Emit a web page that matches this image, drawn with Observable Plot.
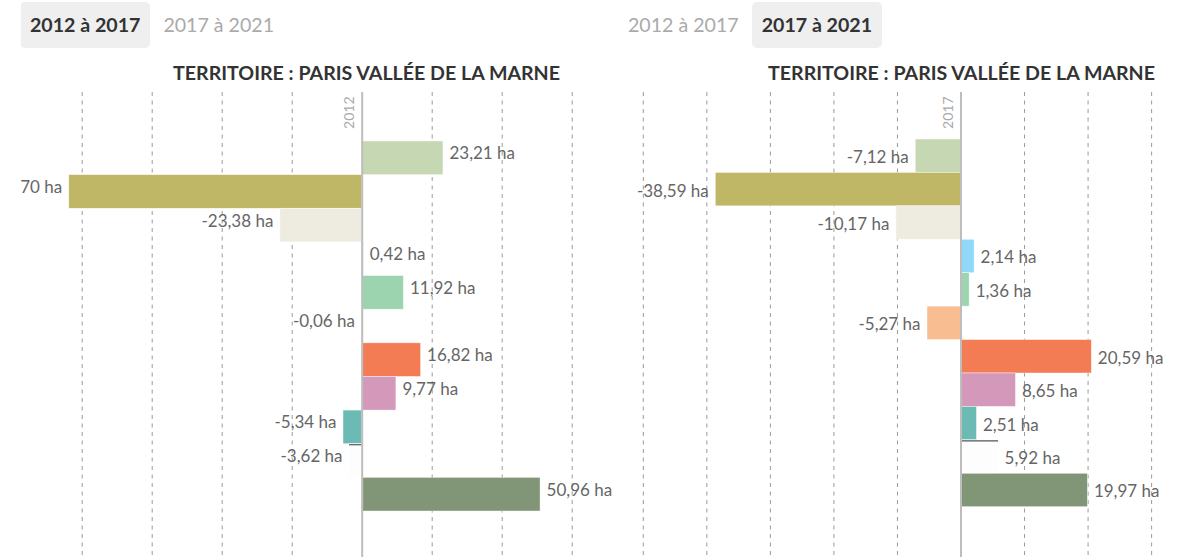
<!DOCTYPE html>
<html><head><meta charset="utf-8">
<script src="https://cdn.jsdelivr.net/npm/d3@7"></script>
<script src="https://cdn.jsdelivr.net/npm/@observablehq/plot@0.6"></script>
<style>
body{margin:0;background:#fff;font-family:Lato,"Open Sans",sans-serif;width:1182px;height:557px;overflow:hidden;position:relative}
.panel{position:absolute;top:0;height:557px;overflow:hidden}
.tabs{position:absolute;top:2px;left:0;display:flex}
.tab{height:46px;line-height:46px;padding:0 10px;margin-right:3px;font-size:19.6px;color:#aaa;border-radius:5px;white-space:nowrap}
.tab.active{background:#efefef;color:#333;font-weight:700}
.title{position:absolute;top:61px;width:693px;left:0;text-align:center;font-weight:700;font-size:19.6px;color:#333;white-space:nowrap}
.chart{position:absolute;top:90px;left:0}
</style>
</head>
<body>
<div class="panel" id="p1" style="left:21px;width:600px"></div>
<div class="panel" id="p2" style="left:618px;width:564px"></div>
<script>
const categories = ["Forêts", "Espaces agricoles", "Milieux semi-naturels", "Eau", "Espaces ouverts artificialisés", "Habitat individuel", "Habitat collectif", "Activités", "Équipements", "Transports", "Carrières, décharges et chantiers"];
const palette = ["#c5d7b3", "#c0b766", "#eeebe0", "#8fd8f7", "#9dd4b0", "#f9bd92", "#f47c55", "#d498ba", "#6cbab4", "#fdfdfd", "#809677"];
const lineCategory = "Transports";
const values2012_2017 = [23.21, -83.70, -23.38, 0.42, 11.92, -0.06, 16.82, 9.77, -5.34, -3.62, 50.96];
const values2017_2021 = [-7.12, -38.59, -10.17, 2.14, 1.36, -5.27, 20.59, 8.65, 2.51, 5.92, 19.97];
const tabLabels = ["2012 à 2017", "2017 à 2021"];
const yearLabels = ["2012", "2017"];
const titleText = "TERRITOIRE : PARIS VALLÉE DE LA MARNE";
const gridTicksLeft = [-80, -60, -40, -20, 20, 40, 60];
const gridTicksRight = [-50, -40, -30, -20, -10, 10, 20, 30];

const fmt = v => v.toFixed(2).replace(".", ",") + " ha";

function build(el, opts) {
  const tabs = document.createElement("div");
  tabs.className = "tabs";
  tabs.style.left = opts.tabsLeft + "px";
  tabLabels.forEach((t, i) => {
    const s = document.createElement("div");
    s.className = "tab" + (i === opts.active ? " active" : "");
    s.textContent = t;
    tabs.appendChild(s);
  });
  el.appendChild(tabs);
  const title = document.createElement("div");
  title.className = "title";
  title.style.left = opts.titleLeft + "px";
  title.textContent = titleText;
  el.appendChild(title);

  const data = categories.map((c, i) => ({cat: c, value: opts.values[i]}));
  const lineData = data.filter(d => d.cat === lineCategory);
  const bw = (opts.yRange[1] - opts.yRange[0]) / categories.length;
  const marks = [
    Plot.ruleX(opts.grid, {stroke: "#9a9a9a", strokeDasharray: "4,4.5", strokeWidth: 1}),
    Plot.barX(data, {x: "value", y: "cat", fill: "cat", stroke: "#fff", strokeWidth: 0.6, strokeOpacity: 0.7}),
    Plot.ruleY(lineData, {y: "cat", x1: 0, x2: "value", stroke: "#555", strokeWidth: 1.2, dy: -bw / 2 + 0.5}),
    Plot.ruleX([0], {stroke: "#bdbdbd", strokeWidth: 2})
  ];
  if (opts.lineEdge) marks.push(Plot.ruleX(lineData, {x: 0, y: "cat", stroke: "#666", strokeWidth: 1.4, dx: -0.3}));
  marks.push(
    Plot.text([opts.year], {x: () => 0, text: d => d, frameAnchor: "top", rotate: -90, textAnchor: "end", lineAnchor: "bottom", dx: -8, dy: 4, fill: "#aaa", fontSize: 14}),
    Plot.text(data.filter(d => d.value >= 0), {x: "value", y: "cat", text: d => fmt(d.value), textAnchor: "start", dx: 6, dy: opts.labelDy, fill: "#666", fontSize: 17}),
    Plot.text(data.filter(d => d.value < 0), {x: "value", y: "cat", text: d => fmt(d.value), textAnchor: "end", dx: -7, dy: opts.labelDy, fill: "#666", fontSize: 17})
  );
  const chart = Plot.plot({
    width: opts.width,
    height: 467,
    marginTop: 2, marginBottom: 0, marginLeft: 0, marginRight: 0,
    style: {fontFamily: "Lato, 'Open Sans', sans-serif", background: "transparent", overflow: "visible"},
    x: {domain: opts.xDomain, axis: null},
    y: {domain: categories, range: opts.yRange, padding: 0, round: false, axis: null},
    color: {domain: categories, range: palette},
    marks
  });
  chart.classList.add("chart");
  el.appendChild(chart);
}

build(document.getElementById("p1"), {
  active: 0, values: values2012_2017, width: 600, xDomain: [-340.7 / 3.5, (600 - 340.7) / 3.5],
  yRange: [51, 421], grid: gridTicksLeft, year: yearLabels[0], labelDy: -4.5, lineEdge: true,
  tabsLeft: -1, titleLeft: -1
});
build(document.getElementById("p2"), {
  active: 1, values: values2017_2021, width: 564, xDomain: [-342.5 / 6.354, (564 - 342.5) / 6.354],
  yRange: [49, 416.7], grid: gridTicksRight, year: yearLabels[1], labelDy: 1.5, lineEdge: false,
  tabsLeft: 0, titleLeft: -3
});
</script>
</body></html>
